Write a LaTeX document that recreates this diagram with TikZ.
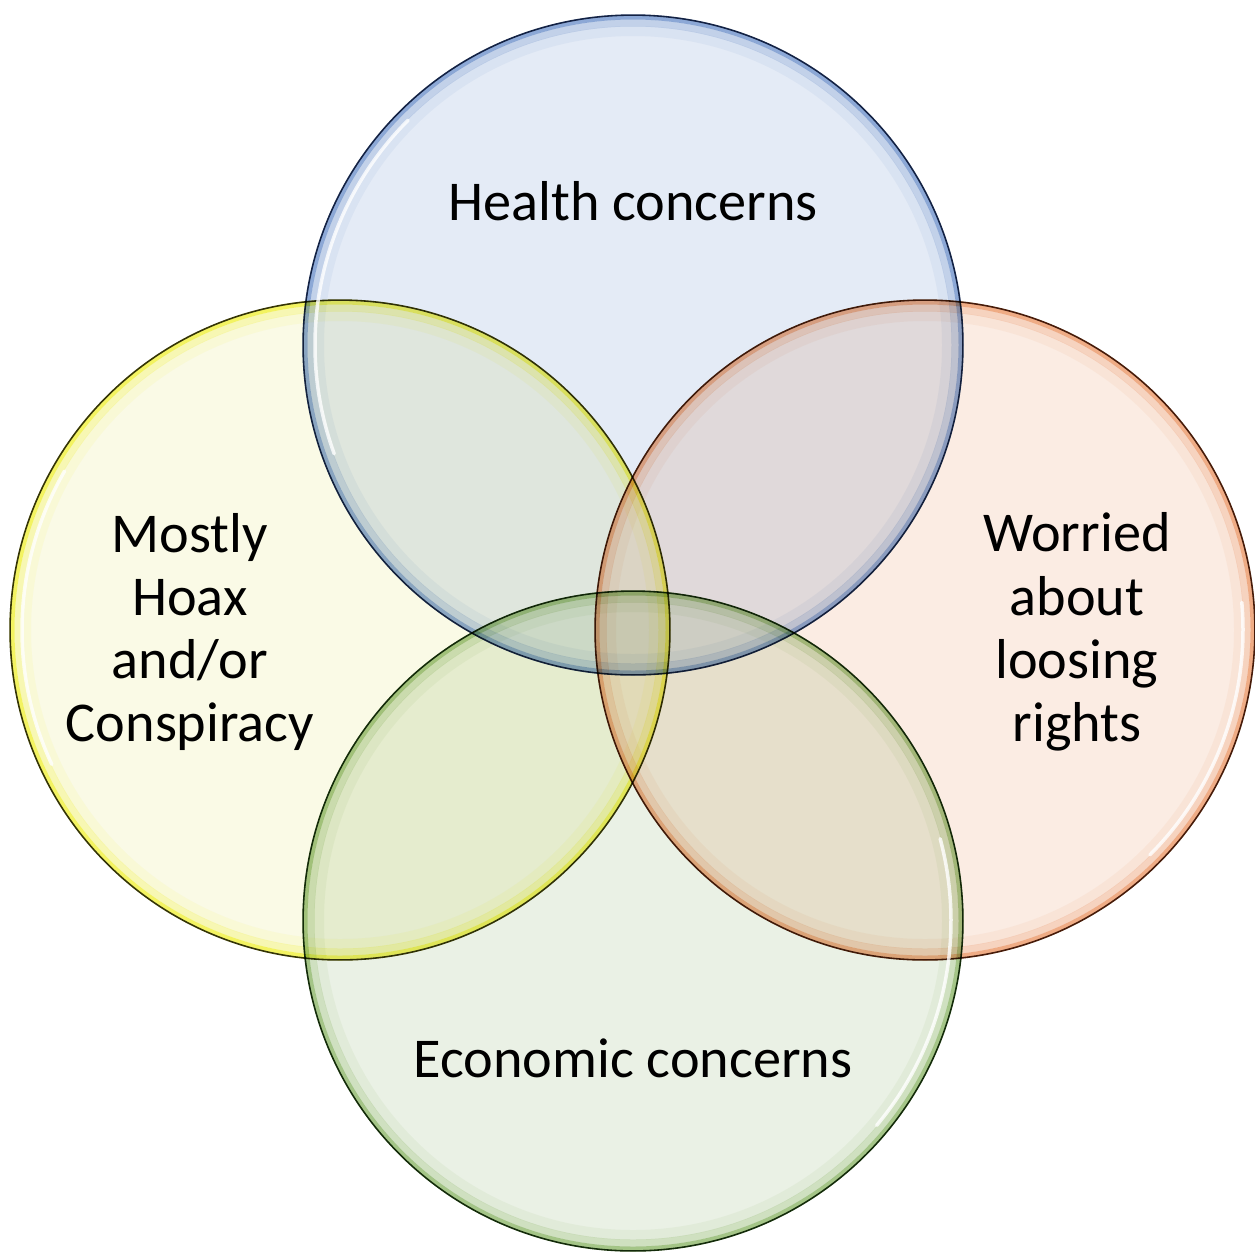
\documentclass[tikz,border=0pt]{standalone}
\usepackage{fontspec}
\setmainfont{Carlito}
\usetikzlibrary{positioning}
\definecolor{healthfill}{RGB}{228,235,246}
\definecolor{healthrim}{RGB}{105,145,205}
\definecolor{healthline}{RGB}{35,50,80}
\definecolor{hoaxfill}{RGB}{250,250,230}
\definecolor{hoaxrim}{RGB}{245,245,30}
\definecolor{hoaxline}{RGB}{55,55,20}
\definecolor{rightsfill}{RGB}{251,236,227}
\definecolor{rightsrim}{RGB}{238,150,95}
\definecolor{rightsline}{RGB}{75,40,20}
\definecolor{econfill}{RGB}{234,241,229}
\definecolor{econrim}{RGB}{140,185,95}
\definecolor{econline}{RGB}{30,55,20}
\tikzstyle{venn} = [circle, 
minimum size=13.2cm, 
inner sep=0pt, 
line width=0.9pt]
\tikzstyle{rimout} = [line width=0.1cm, draw opacity=0.65]
\tikzstyle{rimin} = [line width=0.14cm, draw opacity=0.25]
\tikzstyle{rimfade} = [line width=0.2cm, draw opacity=0.08]
\tikzstyle{shine} = [white, line width=0.07cm, draw opacity=0.8, line cap=round]
\tikzstyle{caption} = [font=\fontsize{32}{36}\selectfont, 
text=black, 
align=center]

\begin{document}
\begin{tikzpicture}[x=0.02cm, y=0.02cm]
	\useasboundingbox (0,0) rectangle (1255,-1252);
	
	\begin{scope}[blend group=multiply]
		\node (health) [venn, fill=healthfill, draw=healthline] at (633,-345) {};
		\node (hoax) [venn, fill=hoaxfill, draw=hoaxline] at (340,-630) {};
		\node (rights) [venn, fill=rightsfill, draw=rightsline] at (925,-630) {};
		\node (econ) [venn, fill=econfill, draw=econline] at (633,-921) {};
		
		% glossy rims
		\draw [rimout, healthrim] (health.center) circle (328);
		\draw [rimin, healthrim] (health.center) circle (322);
		\draw [rimfade, healthrim] (health.center) circle (314);
		\draw [rimout, hoaxrim] (hoax.center) circle (328);
		\draw [rimin, hoaxrim] (hoax.center) circle (322);
		\draw [rimfade, hoaxrim] (hoax.center) circle (314);
		\draw [rimout, rightsrim] (rights.center) circle (328);
		\draw [rimin, rightsrim] (rights.center) circle (322);
		\draw [rimfade, rightsrim] (rights.center) circle (314);
		\draw [rimout, econrim] (econ.center) circle (328);
		\draw [rimin, econrim] (econ.center) circle (322);
		\draw [rimfade, econrim] (econ.center) circle (314);
	\end{scope}
	
	\draw [shine] (health.center) ++(135:318) arc (135:200:318);
	\draw [shine] (hoax.center) ++(150:318) arc (150:205:318);
	\draw [shine] (rights.center) ++(-45:318) arc (-45:5:318);
	\draw [shine] (econ.center) ++(-40:318) arc (-40:15:318);
	
	\node (healthtxt) [caption, anchor=base] at (633,-220) {Health concerns};
	\node (hoaxtxt) [caption] at (190,-632) {Mostly\\Hoax\\and/or\\Conspiracy};
	\node (rightstxt) [caption] at (1077,-632) {Worried\\about\\loosing\\rights};
	\node (econtxt) [caption, anchor=base] at (633,-1077) {Economic concerns};
	
\end{tikzpicture}
\end{document}
